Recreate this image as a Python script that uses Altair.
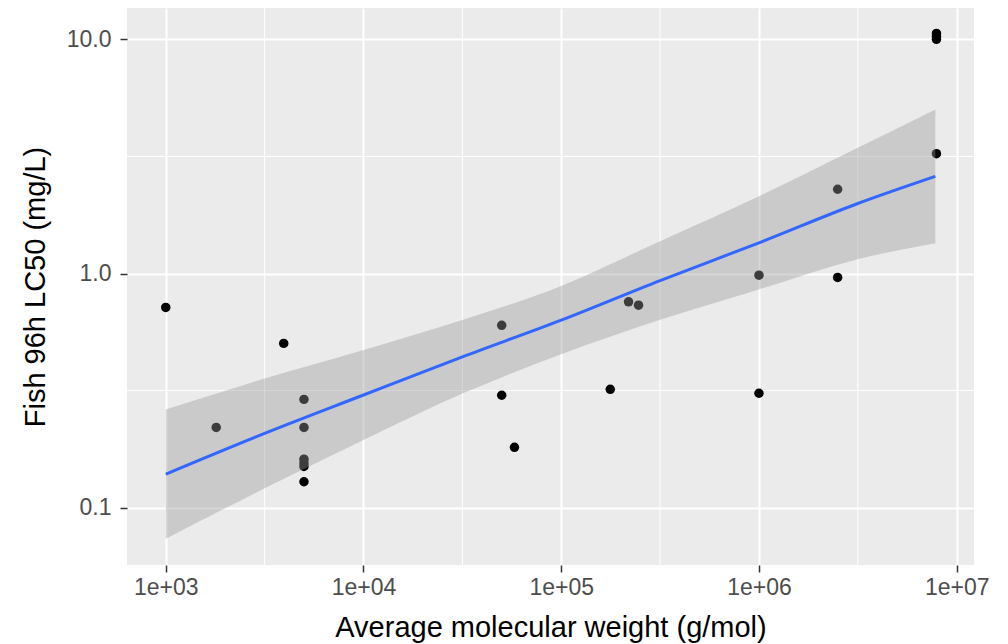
import pandas as pd
import altair as alt

# ---- scatter data ----
mol_weight = [1000, 1800, 3950, 5000, 5000, 5000, 5000, 5000, 5000,
              50000, 50000, 58000, 177000, 219000, 246000,
              1000000, 1000000, 2500000, 2500000,
              7900000, 7900000, 7900000, 7900000]
lc50 = [0.716, 0.220, 0.503, 0.290, 0.220, 0.161, 0.155, 0.150, 0.129,
        0.601, 0.302, 0.181, 0.320, 0.757, 0.732,
        0.984, 0.308, 0.962, 2.29,
        3.25, 10.0, 10.3, 10.6]

# ---- smoother (lm on log-log) and its 95% band ----
fit_x = [1000, 3162, 10000, 31623, 100000, 316228, 1000000, 3162278, 7800000]
fit_y = [0.1390, 0.2075, 0.3027, 0.4406, 0.6324, 0.9333, 1.352, 1.991, 2.600]
fit_hi = [0.2624, 0.3559, 0.4710, 0.6324, 0.8851, 1.374, 2.138, 3.443, 5.023]
fit_lo = [0.0736, 0.1209, 0.1945, 0.3069, 0.4519, 0.6339, 0.8551, 1.151, 1.346]

x_breaks = [1e3, 1e4, 1e5, 1e6, 1e7]
x_minor = [10 ** 3.5, 10 ** 4.5, 10 ** 5.5, 10 ** 6.5]
y_breaks = [0.1, 1.0, 10.0]
y_minor = [10 ** -0.5, 10 ** 0.5]

x_domain = [10 ** 2.804, 10 ** 7.0875]
y_domain = [10 ** -1.245, 10 ** 1.134]

pts = pd.DataFrame({"mw": mol_weight, "lc50": lc50})
fit_df = pd.DataFrame({"x": fit_x, "y": fit_y, "lo": fit_lo, "hi": fit_hi})

xscale = alt.Scale(type="log", domain=x_domain, nice=False, zero=False)
yscale = alt.Scale(type="log", domain=y_domain, nice=False, zero=False)

x_axis = alt.Axis(
    values=x_breaks,
    labelExpr="'1e+0' + format(log(datum.value)/log(10), '.0f')",
    title="Average molecular weight (g/mol)",
    grid=True, gridColor="white", gridWidth=2,
    domain=False, ticks=True, tickColor="#333333", tickSize=7, tickWidth=1.5,
    labelColor="#4D4D4D", labelFontSize=23, labelFont="Liberation Sans",
    labelPadding=4, labelFlush=False,
    titleFont="Liberation Sans", titleFontSize=29, titleFontWeight="normal",
    titleColor="black", titlePadding=14,
)
y_axis = alt.Axis(
    values=y_breaks, format=".1f",
    title="Fish 96h LC50 (mg/L)",
    grid=True, gridColor="white", gridWidth=2,
    domain=False, ticks=True, tickColor="#333333", tickSize=7, tickWidth=1.5,
    labelColor="#4D4D4D", labelFontSize=23, labelFont="Liberation Sans",
    labelPadding=9, labelFlush=False,
    titleFont="Liberation Sans", titleFontSize=29, titleFontWeight="normal",
    titleColor="black", titlePadding=16,
)

minor_x = alt.Chart(pd.DataFrame({"v": x_minor})).mark_rule(
    color="white", strokeWidth=1
).encode(x=alt.X("v:Q", scale=xscale, axis=x_axis))

minor_y = alt.Chart(pd.DataFrame({"v": y_minor})).mark_rule(
    color="white", strokeWidth=1
).encode(y=alt.Y("v:Q", scale=yscale, axis=y_axis))

points = alt.Chart(pts).mark_circle(color="black", opacity=1, size=90).encode(
    x=alt.X("mw:Q", scale=xscale, axis=x_axis),
    y=alt.Y("lc50:Q", scale=yscale, axis=y_axis),
)

band = alt.Chart(fit_df).mark_area(
    color="#999999", opacity=0.4, interpolate="monotone"
).encode(
    x=alt.X("x:Q", scale=xscale, axis=x_axis),
    y=alt.Y("lo:Q", scale=yscale, axis=y_axis),
    y2="hi:Q",
)

line = alt.Chart(fit_df).mark_line(
    color="#3366FF", strokeWidth=3, interpolate="monotone"
).encode(
    x=alt.X("x:Q", scale=xscale, axis=x_axis),
    y=alt.Y("y:Q", scale=yscale, axis=y_axis),
)

chart = alt.layer(minor_x, minor_y, points, band, line).properties(
    width=847, height=557,
    autosize=alt.AutoSizeParams(type="none"),
    padding={"left": 127, "top": 8, "right": 34, "bottom": 79},
    background="white",
).configure_view(fill="#EBEBEB", strokeWidth=0)

chart.save("out.html", embed_options={"renderer": "svg", "actions": False})
